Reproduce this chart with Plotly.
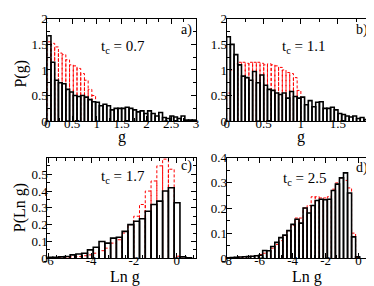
import plotly.graph_objects as go

# ---------------- data ----------------
# panel a (t_c = 0.7), P(g)
a_start, a_width = 0.0, 0.075
a_black = [1.67, 1.15, 0.80, 0.75, 0.73, 0.62, 0.57, 0.50, 0.48, 0.50,
           0.47, 0.42, 0.38, 0.37, 0.30, 0.33, 0.30, 0.22, 0.25, 0.25,
           0.25, 0.27, 0.25, 0.22, 0.18, 0.20, 0.15, 0.20, 0.15, 0.10,
           0.17, 0.07, 0.05, 0.10, 0.08, 0.05, 0.10, 0.02, 0.02, 0.02]
a_red = [1.55, 1.52, 1.45, 1.33, 1.30, 1.20, 1.10, 1.08, 1.03, 0.93,
         0.80, 0.62, 0.50]

# panel b (t_c = 1.1), P(g)
b_start, b_width = 0.0, 0.05
b_black = [1.65, 1.50, 1.30, 1.10, 0.88, 0.85, 0.80, 0.97, 0.75, 0.90,
           0.70, 0.62, 0.60, 0.55, 0.52, 0.55, 0.45, 0.58, 0.48, 0.45,
           0.47, 0.32, 0.40, 0.28, 0.37, 0.38, 0.25, 0.25, 0.27, 0.22,
           0.15, 0.13, 0.10, 0.08, 0.10, 0.05, 0.07, 0.03, 0.05, 0.03]
b_red = [0.55, 1.00, 1.12, 1.15, 1.15, 1.13, 1.15, 1.15, 1.15, 1.13,
         1.10, 1.12, 1.10, 1.08, 1.05, 1.00, 0.95, 0.93, 0.85, 0.60]

# panel c (t_c = 1.7), P(Ln g)
c_start, c_width = -6.06, 0.27
c_black = [0.005, 0.005, 0.008, 0.010, 0.020, 0.025, 0.030, 0.050, 0.065, 0.100,
           0.090, 0.120, 0.125, 0.160, 0.200, 0.220, 0.235, 0.280, 0.320, 0.340,
           0.400, 0.420, 0.330, 0.008, 0.002]
c_red = [0.001, 0.002, 0.003, 0.005, 0.008, 0.010, 0.015, 0.020, 0.030, 0.045,
         0.060, 0.090, 0.110, 0.150, 0.200, 0.250, 0.320, 0.400, 0.460, 0.550,
         0.590, 0.530, 0.012, 0.0, 0.0]

# panel d (t_c = 2.5), P(Ln g)
d_start, d_width = -8.02, 0.245
d_black = [0.002, 0.003, 0.004, 0.005, 0.006, 0.007, 0.008, 0.010, 0.012, 0.031,
           0.030, 0.047, 0.063, 0.082, 0.092, 0.110, 0.135, 0.155, 0.140, 0.200,
           0.180, 0.210, 0.230, 0.235, 0.233, 0.235, 0.270, 0.295, 0.320, 0.340,
           0.260, 0.085, 0.006]
d_red = [0.002, 0.002, 0.003, 0.004, 0.005, 0.006, 0.008, 0.010, 0.015, 0.020,
         0.030, 0.040, 0.055, 0.070, 0.090, 0.110, 0.130, 0.160, 0.160, 0.200,
         0.210, 0.245, 0.245, 0.240, 0.240, 0.245, 0.275, 0.300, 0.320, 0.310,
         0.280, 0.100, 0.003]

panel_tags = ["a)", "b)", "c)", "d)"]
tc_labels = ["t<sub>c</sub> = 0.7", "t<sub>c</sub> = 1.1",
             "t<sub>c</sub> = 1.7", "t<sub>c</sub> = 2.5"]
ytitles = ["P(g)", "P(Ln g)"]
xtitles = ["g", "g", "Ln g", "Ln g"]

c_xticks = [-6, -4, -2, 0]
c_xticktext = ["-6", "-4", "-2", "0"]
d_xticks = [-8, -6, -4, -2, 0]
d_xticktext = ["-8", "-6", "-4", "-2", "0"]

# ---------------- helpers ----------------
FONT = "Liberation Serif"


def outline(start, width, heights):
    xs, ys = [], []
    for i, h in enumerate(heights):
        l = start + i * width
        r = l + width
        xs += [l, l, r, r, None]
        ys += [0, h, h, 0, None]
    return xs, ys


W, H = 374, 286


def px_x(p):
    return p / W


def px_y(p):
    return 1 - p / H


fig = go.Figure()

panels = [
    ("x", "y", a_start, a_width, a_black, a_red),
    ("x2", "y2", b_start, b_width, b_black, b_red),
    ("x3", "y3", c_start, c_width, c_black, c_red),
    ("x4", "y4", d_start, d_width, d_black, d_red),
]

for xa, ya, s, w, blk, red in panels:
    rx, ry = outline(s, w, red)
    fig.add_trace(go.Scatter(x=rx, y=ry, mode="lines", xaxis=xa, yaxis=ya,
                             line=dict(color="#ff0000", width=1, dash="3px,2px"),
                             hoverinfo="skip", showlegend=False))
    bx, by = outline(s, w, blk)
    fig.add_trace(go.Scatter(x=bx, y=by, mode="lines", xaxis=xa, yaxis=ya,
                             line=dict(color="black", width=1.6),
                             hoverinfo="skip", showlegend=False))

# domains (pixel based)
dx_left = [px_x(35), px_x(187)]
dx_right = [px_x(218.3), px_x(370)]
dy_top = [px_y(112), px_y(4)]
dy_bot = [px_y(256.7), px_y(150.7)]

tickfont = dict(family=FONT, size=13, color="black")


def axis_common(**kw):
    d = dict(showline=True, linecolor="black", linewidth=1, mirror="allticks",
             ticks="inside", ticklen=5, tickwidth=1, tickcolor="black",
             showgrid=False, zeroline=False, tickfont=tickfont)
    d.update(kw)
    return d


MX = dict(ticklabelstandoff=-10)
MY = dict(ticklabelstandoff=-4)

fig.update_layout(
    width=W, height=H, margin=dict(l=0, r=0, t=0, b=0),
    paper_bgcolor="white", plot_bgcolor="white",
    xaxis=axis_common(domain=dx_left, anchor="y", range=[0, 3], dtick=0.5, tick0=0, **MX,
                      minor=dict(dtick=0.25, ticks="inside", ticklen=3, tickcolor="black")),
    yaxis=axis_common(domain=dy_top, anchor="x", range=[0, 2], dtick=0.5, tick0=0, **MY,
                      minor=dict(dtick=0.25, ticks="inside", ticklen=3, tickcolor="black")),
    xaxis2=axis_common(domain=dx_right, anchor="y2", range=[0, 2], dtick=0.5, tick0=0, **MX,
                       minor=dict(dtick=0.25, ticks="inside", ticklen=3, tickcolor="black")),
    yaxis2=axis_common(domain=dy_top, anchor="x2", range=[0, 2], dtick=0.5, tick0=0, **MY,
                       minor=dict(dtick=0.25, ticks="inside", ticklen=3, tickcolor="black")),
    xaxis3=axis_common(domain=dx_left, anchor="y3", range=[-6.05, 0.9], **MX,
                       tickvals=c_xticks, ticktext=c_xticktext,
                       minor=dict(dtick=0.4, tick0=-6, ticks="inside", ticklen=3, tickcolor="black")),
    yaxis3=axis_common(domain=dy_bot, anchor="x3", range=[0, 0.598], dtick=0.1, tick0=0, **MY,
                       minor=dict(dtick=0.05, ticks="inside", ticklen=3, tickcolor="black")),
    xaxis4=axis_common(domain=dx_right, anchor="y4", range=[-8, 1], **MX,
                       tickvals=d_xticks, ticktext=d_xticktext,
                       minor=dict(dtick=2 / 3, tick0=-8, ticks="inside", ticklen=3, tickcolor="black")),
    yaxis4=axis_common(domain=dy_bot, anchor="x4", range=[0, 0.4], dtick=0.1, tick0=0, **MY,
                       minor=dict(dtick=0.05, ticks="inside", ticklen=3, tickcolor="black")),
)

ann = []
tag_pos = [(177, 16), (357, 16), (177, 159), (357, 161)]
tc_pos = [(112, 34), (297, 34), (112, 171), (298, 173)]
for t, (x, y) in zip(panel_tags, tag_pos):
    ann.append(dict(text=t, x=px_x(x), y=px_y(y), xref="paper", yref="paper",
                    showarrow=False, xanchor="center", yanchor="middle",
                    font=dict(family=FONT, size=14, color="black")))
for t, (x, y) in zip(tc_labels, tc_pos):
    ann.append(dict(text=t, x=px_x(x), y=px_y(y), xref="paper", yref="paper",
                    showarrow=False, xanchor="center", yanchor="middle",
                    font=dict(family=FONT, size=15, color="black")))
for t, (x, y) in zip(ytitles, [(8, 62), (8, 203)]):
    ann.append(dict(text=t, x=px_x(x), y=px_y(y), xref="paper", yref="paper",
                    showarrow=False, xanchor="center", yanchor="middle", textangle=-90,
                    font=dict(family=FONT, size=16, color="black")))
for t, (x, y) in zip(xtitles, [(111, 129), (294, 129), (114, 276), (300, 276)]):
    ann.append(dict(text=t, x=px_x(x), y=px_y(y), xref="paper", yref="paper",
                    showarrow=False, xanchor="center", yanchor="middle",
                    font=dict(family=FONT, size=16, color="black")))
fig.update_layout(annotations=ann)

fig.write_html("out.html")
